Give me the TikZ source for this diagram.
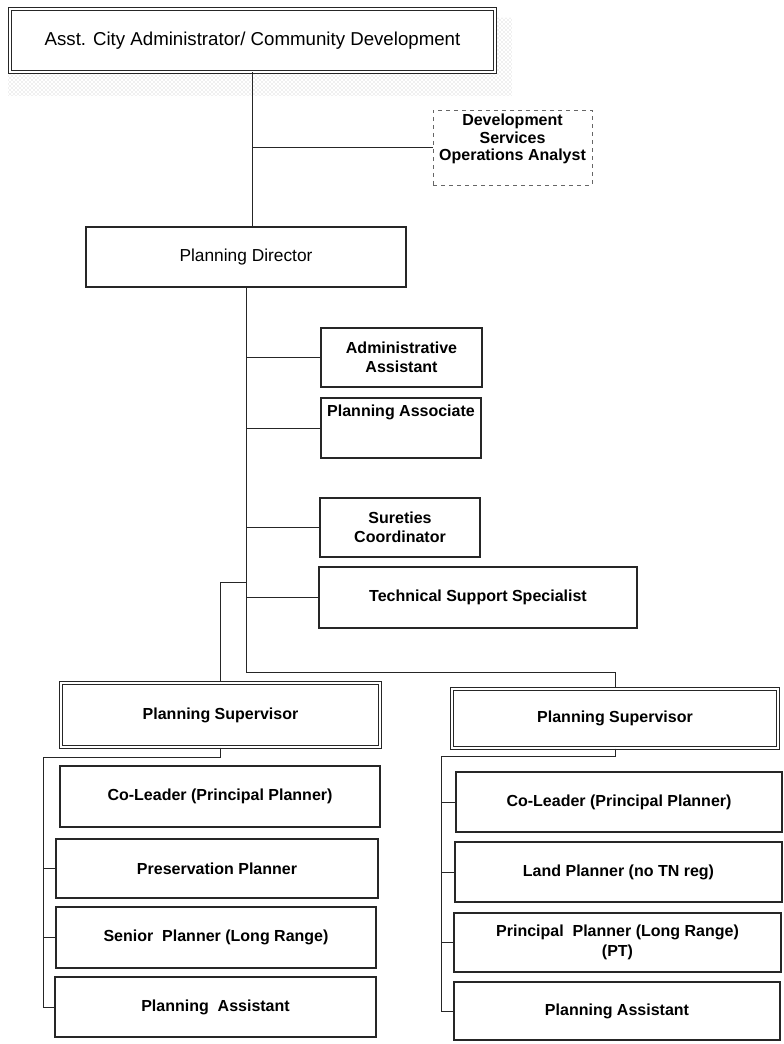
\documentclass[tikz,border=0pt]{standalone}
\usepackage{fontspec}
\setmainfont{Liberation Sans}
\usepackage{tikz}
\usetikzlibrary{patterns}
\tikzstyle{box} = [draw=black!85, line width=0.8pt, rectangle, align=center, inner sep=2pt, font={\fontsize{12}{14.5}\selectfont\bfseries}]
\tikzstyle{chief} = [box, double, double distance=1.4pt, line width=0.7pt, font={\fontsize{14}{16}\selectfont}]
\tikzstyle{head} = [box, line width=1.6pt, font={\fontsize{13}{16}\selectfont}]
\tikzstyle{sup} = [box, double, double distance=1.2pt, line width=1pt]
\tikzstyle{aside} = [box, dashed, draw=black!60, line width=0.6pt, font={\fontsize{12}{13}\selectfont\bfseries}]
\tikzstyle{link} = [draw=black!85, line width=0.7pt]

\begin{document}
\begin{tikzpicture}[x=0.75pt, y=-0.75pt]
    \useasboundingbox (0,0) rectangle (783,1044);
    % speckled shadow under the top box
    \fill[pattern=crosshatch dots, pattern color=black!25] (495,18) -- (512,18) -- (512,96) -- (8,96) -- (8,74) -- (495,74) -- cycle;
    \node[chief, minimum width=363.75pt, minimum height=47.25pt](asst) at (252.5,40.5){Asst. City Administrator/ Community Development};
    \node[aside, minimum width=119.25pt, minimum height=56.25pt](devsvc) at (512.5,147.5){Development\\Services\\Operations Analyst\\[2pt]\mbox{}};
    \node[head, minimum width=240pt, minimum height=45pt](director) at (246,257){Planning Director};
    % staff of the director
    \node[box, minimum width=120.75pt, minimum height=44.25pt](admin) at (401.5,357.5){Administrative\\Assistant};
    \node[box, minimum width=120pt, minimum height=45pt](assoc) at (401,428){Planning Associate\\[12pt]\mbox{}};
    \node[box, minimum width=120pt, minimum height=44.25pt](sureties) at (400,527.5){Sureties\\Coordinator};
    \node[box, minimum width=238.5pt, minimum height=45.75pt](techsup) at (478,597.5){Technical Support Specialist};
    % supervisors
    \node[sup, minimum width=239.25pt, minimum height=48pt](supL) at (220.5,715){Planning Supervisor};
    \node[sup, minimum width=244.5pt, minimum height=44.25pt](supR) at (615,718.5){Planning Supervisor};
    % left team
    \node[box, minimum width=240pt, minimum height=45.75pt](coL) at (220,796.5){Co-Leader (Principal Planner)};
    \node[box, minimum width=241.5pt, minimum height=44.25pt](pres) at (217,868.5){Preservation Planner};
    \node[box, minimum width=240pt, minimum height=45.75pt](senior) at (216,937.5){Senior\ \ Planner (Long Range)};
    \node[box, minimum width=240.75pt, minimum height=45pt](assistL) at (215.5,1007){Planning\ \ Assistant};
    % right team
    \node[box, minimum width=244.5pt, minimum height=45pt](coR) at (619,802){Co-Leader (Principal Planner)};
    \node[box, minimum width=245.25pt, minimum height=45pt](land) at (618.5,872){Land Planner (no TN reg)};
    \node[box, minimum width=245.25pt, minimum height=44.25pt](principal) at (617.5,942.5){Principal\ \ Planner (Long Range)\\(PT)};
    \node[box, minimum width=244.5pt, minimum height=43.5pt](assistR) at (617,1011){Planning Assistant};
    \coordinate (knee) at (246,672);
    \coordinate (elbow) at (246,582);
    \coordinate (spL) at (43,757);
    \coordinate (spR) at (441,756);
    % connectors
    \draw[link](asst.south) -- (asst.south |- director.north);
    \draw[link](asst.south |- devsvc.west) -- (devsvc.west);
    \draw[link](director.south) -- (knee) -| (supR.north);
    \foreach \n in {admin,assoc,sureties,techsup}
        \draw[link](director.south |- \n.west) -- (\n.west);
    \draw[link](elbow) -| (supL.north);
    \draw[link](supL.south) |- (spL) |- (assistL.west);
    \draw[link](spL |- pres.west) -- (pres.west);
    \draw[link](spL |- senior.west) -- (senior.west);
    \draw[link](supR.south) |- (spR) |- (assistR.west);
    \foreach \n in {coR,land,principal}
        \draw[link](spR |- \n.west) -- (\n.west);
\end{tikzpicture}
\end{document}
